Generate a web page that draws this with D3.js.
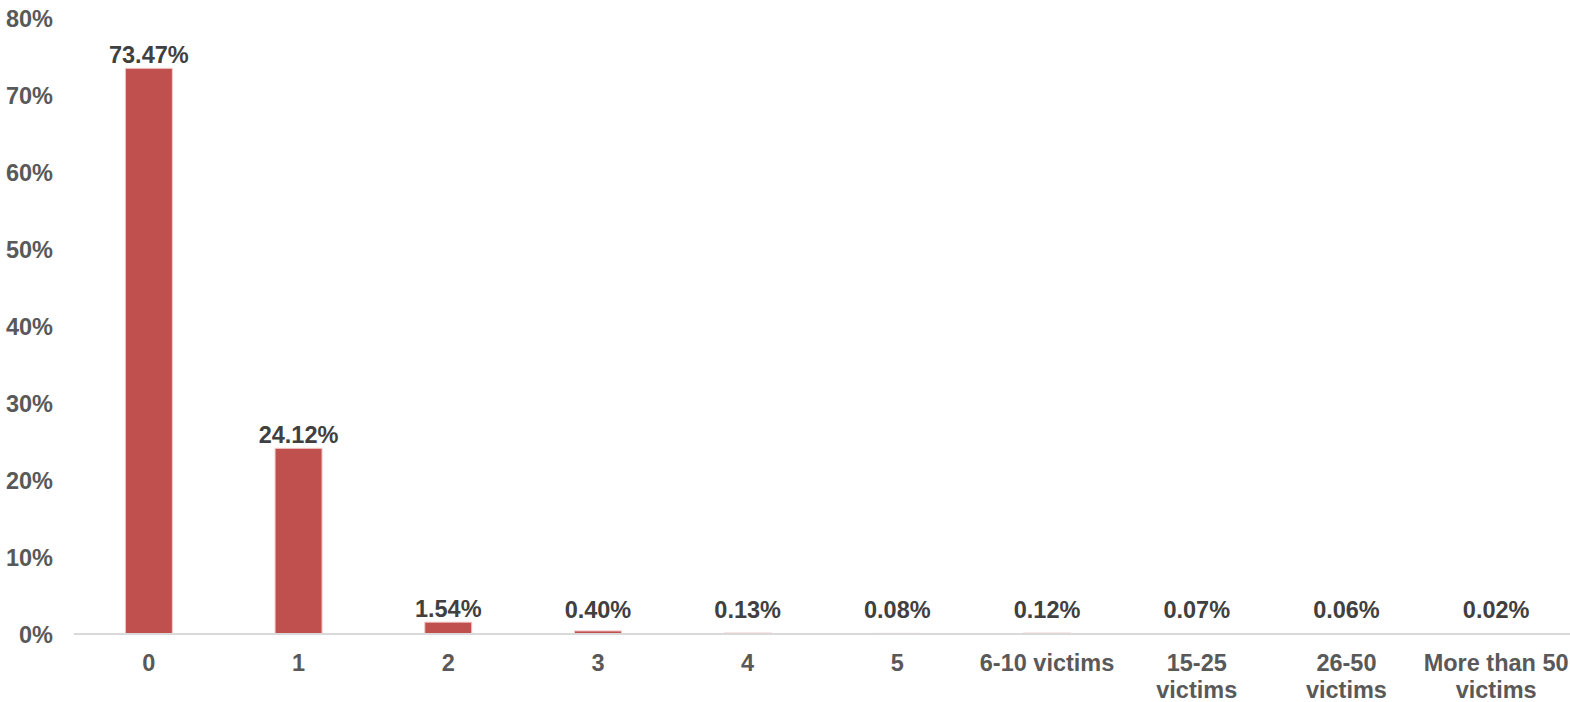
<!DOCTYPE html>
<html>
<head>
<meta charset="utf-8">
<script src="https://cdn.jsdelivr.net/npm/d3@7"></script>
<style>
  html, body { margin: 0; padding: 0; background: #fff; }
  svg { display: block; font-family: "Liberation Sans", Arial, sans-serif; font-weight: bold; }
</style>
</head>
<body>
<svg id="chart" width="1570" height="702"></svg>
<script>
const categories = ["0", "1", "2", "3", "4", "5", "6-10 victims", "15-25 victims", "26-50 victims", "More than 50 victims"];
const values = [73.47, 24.12, 1.54, 0.40, 0.13, 0.08, 0.12, 0.07, 0.06, 0.02];
const valueLabels = ["73.47%", "24.12%", "1.54%", "0.40%", "0.13%", "0.08%", "0.12%", "0.07%", "0.06%", "0.02%"];
const yTicks = [0, 10, 20, 30, 40, 50, 60, 70, 80];

const svg = d3.select("#chart");
const plotLeft = 74, plotRight = 1571, plotTop = 18, plotBottom = 634;

const x = d3.scaleBand().domain(categories).range([plotLeft, plotRight]).paddingInner(0.686).paddingOuter(0.343);
const y = d3.scaleLinear().domain([0, 80]).range([plotBottom, plotTop]);

// y-axis labels
const yAxis = d3.axisLeft(y).tickValues(yTicks).tickFormat(d => d + "%").tickSize(0).tickPadding(0);
const yg = svg.append("g").attr("transform", "translate(53,0)").call(yAxis);
yg.select(".domain").remove();
yg.selectAll("text").attr("font-size", "23.5px").attr("font-family", "Liberation Sans, Arial, sans-serif")
  .attr("font-weight", "bold").attr("fill", "#595959").attr("dy", "0.36em");

// bars
svg.append("g").selectAll("rect").data(values).join("rect")
  .attr("x", (d, i) => x(categories[i]))
  .attr("y", d => y(d))
  .attr("width", x.bandwidth())
  .attr("height", d => Math.max(0.01, y(0) - y(d)))
  .attr("fill", "#C0504D")
  .attr("stroke", "#f4cccc")
  .attr("stroke-width", 1);

// baseline axis
const xAxis = d3.axisBottom(x).tickSize(0).tickPadding(0).tickFormat("");
const xg = svg.append("g").attr("transform", `translate(0,${y(0)})`).call(xAxis);
xg.select(".domain").attr("stroke", "#d9d9d9").attr("stroke-width", 2).attr("d", `M${plotLeft},0H${plotRight}`);

// x labels: if too wide, move the last word to a second line
const labelG = svg.append("g");
categories.forEach((c, i) => {
  const cx = x(c) + x.bandwidth() / 2;
  const t = labelG.append("text").attr("x", cx).attr("y", 671).attr("text-anchor", "middle")
    .attr("font-size", "23.5px").attr("fill", "#595959");
  const tspan = t.append("tspan").attr("x", cx).attr("dy", 0).text(c);
  const words = c.split(" ");
  if (tspan.node().getComputedTextLength() > 142 && words.length > 1) {
    tspan.text(words.slice(0, -1).join(" "));
    t.append("tspan").attr("x", cx).attr("dy", "27px").text(words[words.length - 1]);
  }
});

// value labels
svg.append("g").selectAll("text").data(values).join("text")
  .attr("x", (d, i) => x(categories[i]) + x.bandwidth() / 2)
  .attr("y", d => Math.min(y(d) - 5, y(0) - 16))
  .attr("text-anchor", "middle")
  .attr("font-size", "23.5px")
  .attr("fill", "#404040")
  .text((d, i) => valueLabels[i]);
</script>
</body>
</html>
